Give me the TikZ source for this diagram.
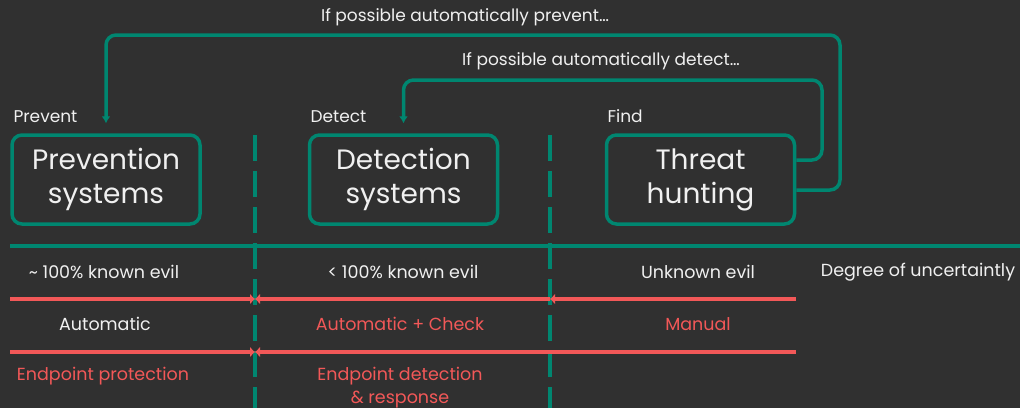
\documentclass[tikz,border=0pt]{standalone}
\usepackage{fontspec}
\setmainfont{Poppins}
\usetikzlibrary{arrows.meta,positioning}

\definecolor{bg}{RGB}{48,48,48}
\definecolor{teal}{RGB}{0,134,112}
\definecolor{coral}{RGB}{242,88,88}
\definecolor{ink}{RGB}{240,240,240}

\begin{document}
\begin{tikzpicture}[x=1pt,y=-1pt,
    sysbox/.style={draw=teal, line width=3.5pt, rounded corners=10pt,
        minimum width=188pt, minimum height=89pt, align=center,
        text=ink, font=\fontsize{28}{34}\selectfont},
    lbl/.style={text=ink, font=\fontsize{17}{20}\selectfont},
    row/.style={text=ink, font=\fontsize{17.5}{21}\selectfont, align=center},
    hot/.style={row, text=coral},
    flow/.style={draw=teal, line width=3.5pt, rounded corners=10pt,
        -{Latex[length=7pt,width=9pt]}, shorten >=10pt},
    split/.style={draw=teal, line width=3.5pt, dash pattern=on 26pt off 10pt},
    band/.style={draw=coral, line width=3.8pt},
    meet/.style={band, -{Latex[length=5pt,width=11pt]}}]

    % background
    \fill[bg] (0,0) rectangle (1020,408);
    \useasboundingbox (0,0) rectangle (1020,408);

    % systems
    \node[sysbox] (prevention) at (106,179.5) {Prevention\\systems};
    \node[sysbox] (detection) at (403.5,179.5) {Detection\\systems};
    \node[sysbox] (hunting) at (700.5,179.5) {Threat\\hunting};

    % column heads
    \node[lbl, anchor=base west] (prevent) at (10,122) {Prevent};
    \node[lbl, anchor=base west] (detect) at (307,122) {Detect};
    \node[lbl, anchor=base west] (find) at (604,122) {Find};

    % feedback loops
    \coordinate (outer) at (840,35);
    \coordinate (inner) at (822,80);
    \draw[flow] ([yshift=-10.5pt]hunting.east) -| (outer) -| (prevention.north);
    \draw[flow] ([yshift=19.5pt]hunting.east) -| (inner) -| (detection.north);
    \node[lbl] (preventnote) at (465,17) {If possible automatically prevent\dots};
    \node[lbl] (detectnote) at (601,61) {If possible automatically detect\dots};

    % column splits
    \draw[split] (255,135) -- (255,408);
    \draw[split] (550,135) -- (550,408);

    % uncertainty axis
    \draw[draw=teal, line width=3.5pt] (10,246) -- (1020,246);

    % bands
    \draw[meet] (10,299) -- (255,299);
    \draw[meet] (550,299) -- (255,299);
    \draw[meet] (796,299) -- (550,299);
    \draw[meet] (10,352) -- (255,352);
    \draw[meet] (796,352) -- (255,352);

    % row 1
    \node[row] (known) at (104,272) {\textasciitilde{} 100\% known evil};
    \node[row] (mostly) at (403,272) {< 100\% known evil};
    \node[row] (unknown) at (698,272) {Unknown evil};
    \node[row] (degree) at (918,272) {Degree of uncertaintly};

    % row 2
    \node[row] (auto) at (105,324) {Automatic};
    \node[hot] (check) at (400,324) {Automatic + Check};
    \node[hot] (manual) at (698,324) {Manual};

    % row 3
    \node[hot] (epp) at (103,376) {Endpoint protection};
    \node[hot, font=\fontsize{17.5}{23}\selectfont] (edr) at (400,388) {Endpoint detection\\\& response};
\end{tikzpicture}
\end{document}
